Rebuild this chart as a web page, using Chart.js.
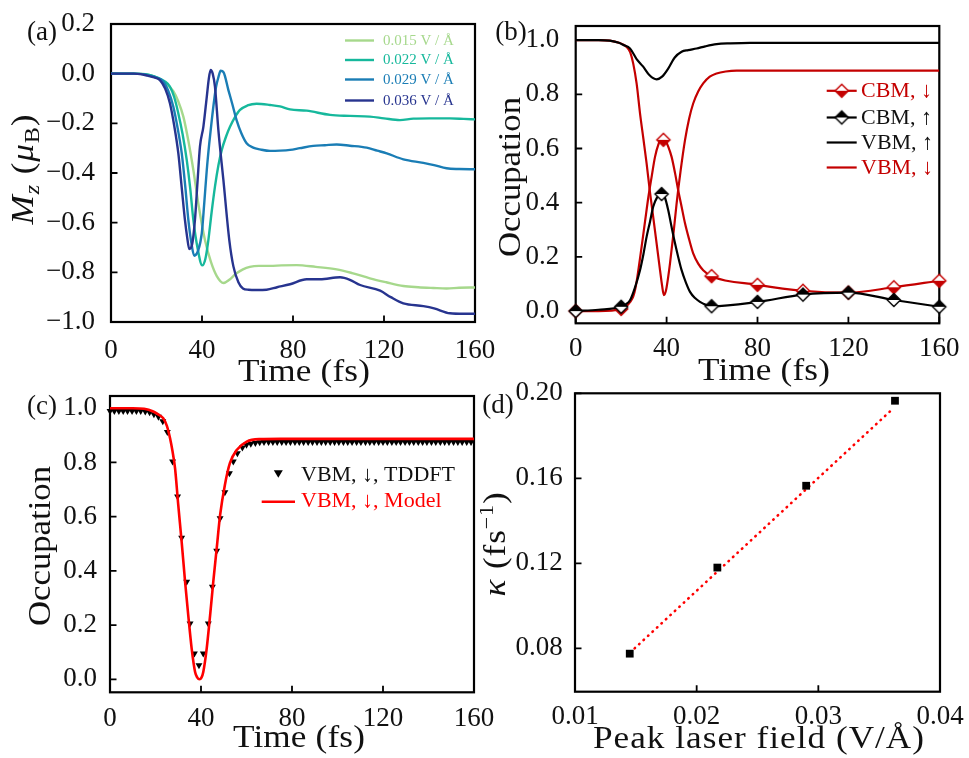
<!DOCTYPE html>
<html><head><meta charset="utf-8">
<script src="https://cdn.jsdelivr.net/npm/chart.js@4.4.0/dist/chart.umd.min.js"></script>
<style>
html,body{margin:0;padding:0;background:#fff;}
body{width:969px;height:758px;position:relative;overflow:hidden;}
canvas{position:absolute;display:block;}
</style></head><body>
<canvas id="ca" width="500" height="390" style="left:0;top:0"></canvas>
<canvas id="cb" width="489" height="390" style="left:480px;top:0"></canvas>
<canvas id="cc" width="500" height="383" style="left:0;top:375px"></canvas>
<canvas id="cd" width="489" height="383" style="left:480px;top:375px"></canvas>
<script>
// ================= DATA =================
// ---- panel (a): Mz vs time for four peak fields ----
const aFieldLabels = ['0.015 V / Å', '0.022 V / Å', '0.029 V / Å', '0.036 V / Å'];
const aTicksX = [0, 40, 80, 120, 160];
const aTickLabelsX = ['0', '40', '80', '120', '160'];
const aTicksY = [-1.0, -0.8, -0.6, -0.4, -0.2, 0.0, 0.2];
const aTickLabelsY = ['\u22121.0', '\u22120.8', '\u22120.6', '\u22120.4', '\u22120.2', '0.0', '0.2'];

const aT015 = [0, 10, 15, 18, 21, 24, 27.4, 29.5, 31.8, 34, 36.2, 38.5, 41.3, 44, 46.5, 49.4, 52, 55, 58, 61, 65, 70, 75, 81.6, 90, 99.2, 106, 113.8, 121, 128.5, 135, 141.7, 147.5, 153, 160];
const aM015 = [0, 0, -0.002, -0.008, -0.02, -0.04, -0.07, -0.11, -0.173, -0.27, -0.388, -0.53, -0.67, -0.76, -0.815, -0.843, -0.83, -0.805, -0.788, -0.778, -0.774, -0.774, -0.772, -0.771, -0.778, -0.788, -0.803, -0.824, -0.84, -0.855, -0.86, -0.863, -0.865, -0.862, -0.861];

const aT022 = [0, 10, 15, 18, 21, 23.5, 25.9, 27.8, 29.6, 31.5, 33.3, 34.8, 36.2, 38, 40.1, 41.5, 42.8, 44.2, 45.7, 47.2, 48.7, 50.5, 52.3, 54.5, 56.7, 60, 64, 69.9, 74.3, 78.7, 86, 96.3, 105, 113.8, 120, 127, 132.9, 140, 149, 155, 160];
const aM022 = [0, 0, -0.002, -0.008, -0.018, -0.03, -0.052, -0.095, -0.16, -0.245, -0.348, -0.46, -0.589, -0.7, -0.772, -0.745, -0.67, -0.56, -0.455, -0.37, -0.307, -0.255, -0.214, -0.175, -0.146, -0.128, -0.121, -0.126, -0.132, -0.144, -0.149, -0.166, -0.17, -0.173, -0.18, -0.187, -0.181, -0.18, -0.18, -0.182, -0.184];

const aT029 = [0, 10, 14, 17, 20, 23, 25.2, 27.4, 29.3, 31.1, 32.6, 34, 35.3, 36.6, 38.2, 39.9, 41, 42.1, 43.2, 44.3, 45.3, 46.2, 47.2, 48.2, 49.5, 51.6, 53.4, 55.2, 57.3, 59.6, 62.5, 65.5, 69.9, 74.3, 78.7, 83, 88.9, 94, 99.2, 105, 112.4, 117, 121.2, 128.5, 137.3, 142, 147.5, 153, 160];
const aM029 = [0, 0, -0.002, -0.008, -0.016, -0.032, -0.07, -0.133, -0.22, -0.321, -0.45, -0.589, -0.68, -0.733, -0.715, -0.643, -0.52, -0.388, -0.28, -0.187, -0.11, -0.052, -0.015, 0.012, 0.005, -0.066, -0.125, -0.187, -0.24, -0.28, -0.298, -0.305, -0.311, -0.31, -0.307, -0.3, -0.291, -0.288, -0.285, -0.29, -0.298, -0.31, -0.321, -0.345, -0.359, -0.368, -0.381, -0.384, -0.385];

const aT036 = [0, 10, 13, 16, 19, 21.5, 23.8, 25.9, 27.8, 29.6, 31.1, 32.5, 33.5, 34.4, 35.6, 36.9, 38, 39.1, 40.6, 42.1, 43, 43.8, 44.7, 45.7, 47.2, 49.4, 52, 53.8, 56, 58, 60.4, 64, 68.4, 73, 78.7, 86, 91.9, 100.7, 105, 109.5, 118.3, 123, 128.5, 137.3, 142, 149, 155, 160];
const aM036 = [0, 0, -0.002, -0.008, -0.015, -0.026, -0.06, -0.119, -0.21, -0.321, -0.46, -0.589, -0.66, -0.706, -0.69, -0.589, -0.44, -0.294, -0.214, -0.093, -0.02, 0.015, 0.0, -0.052, -0.227, -0.428, -0.67, -0.776, -0.84, -0.865, -0.87, -0.871, -0.87, -0.86, -0.848, -0.828, -0.828, -0.82, -0.83, -0.851, -0.874, -0.9, -0.925, -0.936, -0.945, -0.965, -0.967, -0.967];

// ---- panel (b): occupations ----
const bLegend = ['CBM, \u2193', 'CBM, \u2191', 'VBM, \u2191', 'VBM, \u2193'];
const bTicksX = [0, 40, 80, 120, 160];
const bTickLabelsX = ['0', '40', '80', '120', '160'];
const bTicksY = [0.0, 0.2, 0.4, 0.6, 0.8, 1.0];
const bTickLabelsY = ['0.0', '0.2', '0.4', '0.6', '0.8', '1.0'];

const bVbmUpT = [0, 10, 15, 19, 21, 23.9, 26.8, 29.7, 32.5, 35.6, 38, 40.7, 43.5, 46.6, 49.5, 53.2, 57, 62, 68, 76.7, 100, 160];
const bVbmUpV = [1.0, 1.0, 0.998, 0.99, 0.982, 0.969, 0.93, 0.902, 0.87, 0.855, 0.865, 0.895, 0.935, 0.957, 0.963, 0.969, 0.977, 0.985, 0.988, 0.99, 0.99, 0.99];

const bVbmDnT = [0, 10, 15, 19, 22.4, 24, 25.3, 26.8, 28.3, 29.8, 31.2, 32.6, 34.1, 35.6, 37.1, 38, 38.8, 39.7, 40.6, 41.5, 43, 44.4, 46.2, 48.1, 49.9, 51.7, 53.9, 56.1, 59, 62, 66, 70.8, 80, 160];
const bVbmDnV = [1.0, 1.0, 0.998, 0.99, 0.975, 0.955, 0.914, 0.84, 0.73, 0.635, 0.545, 0.445, 0.348, 0.25, 0.151, 0.095, 0.059, 0.075, 0.12, 0.176, 0.285, 0.397, 0.52, 0.631, 0.71, 0.766, 0.81, 0.84, 0.865, 0.877, 0.884, 0.887, 0.887, 0.887];

const bCbmDnT = [0, 10, 20, 22.5, 23.9, 25.3, 26.3, 27.2, 29, 30.5, 32, 33.5, 34.9, 36.4, 37.8, 38.6, 39.5, 40.8, 42.2, 43.7, 45.1, 46.6, 48.1, 49.9, 51.7, 53.9, 56.1, 59.8, 80, 100, 120, 140, 160];
const bCbmDnV = [0, 0, 0.008, 0.02, 0.033, 0.053, 0.085, 0.13, 0.237, 0.33, 0.422, 0.5, 0.569, 0.615, 0.637, 0.632, 0.628, 0.605, 0.569, 0.51, 0.446, 0.385, 0.324, 0.265, 0.213, 0.175, 0.151, 0.129, 0.097, 0.075, 0.068, 0.088, 0.112];
const bCbmDnMarks = [0, 20, 38.6, 59.8, 80, 100, 120, 140, 160];

const bCbmUpT = [0, 10, 20, 22, 23.9, 26, 28.3, 29.8, 31.2, 32.7, 34.1, 35.7, 37.8, 39.2, 40.7, 42.2, 43.7, 45.1, 46.6, 48.5, 50.3, 52.5, 54.7, 57, 59.8, 80, 100, 120, 140, 160];
const bCbmUpV = [0, 0.005, 0.016, 0.025, 0.04, 0.085, 0.151, 0.21, 0.274, 0.33, 0.385, 0.418, 0.432, 0.42, 0.373, 0.31, 0.25, 0.2, 0.151, 0.105, 0.071, 0.048, 0.034, 0.024, 0.018, 0.034, 0.061, 0.068, 0.041, 0.016];
const bCbmUpMarks = [0, 20, 37.8, 59.8, 80, 100, 120, 140, 160];

// ---- panel (c): VBM spin-down, TDDFT vs model ----
const cLegend = ['VBM, \u2193, TDDFT', 'VBM, \u2193, Model'];
const cTicksX = [0, 40, 80, 120, 160];
const cTickLabelsX = ['0', '40', '80', '120', '160'];
const cTicksY = [0.0, 0.2, 0.4, 0.6, 0.8, 1.0];
const cTickLabelsY = ['0.0', '0.2', '0.4', '0.6', '0.8', '1.0'];

const cTddftT = [0, 1.9, 3.9, 5.8, 7.7, 9.7, 11.6, 13.5, 15.5, 17.4, 19.3, 21.3, 23.2, 25.2, 27.5, 29.7, 31.5, 33.7, 35.2, 37.1, 39.1, 41, 43.2, 45, 46.9, 48.4, 50.5, 52.5, 54.2, 56, 58.2, 60, 61.9, 63.9, 65.8, 67.7, 69.7, 71.6, 73.5, 75.5, 77.4, 79.3, 81.3, 83.2, 85.1, 87.1, 89, 91, 92.9, 94.8, 96.8, 98.7, 100.6, 102.6, 104.5, 106.4, 108.4, 110.3, 112.3, 114.2, 116.1, 118.1, 120, 121.9, 123.9, 125.8, 127.7, 129.7, 131.6, 133.5, 135.5, 137.4, 139.3, 141.3, 143.2, 145.2, 147.1, 149, 151, 152.9, 154.8, 156.8, 158.7];
const cTddftV = [0.99, 0.99, 0.99, 0.99, 0.99, 0.99, 0.99, 0.99, 0.988, 0.985, 0.978, 0.968, 0.952, 0.912, 0.803, 0.674, 0.522, 0.36, 0.206, 0.095, 0.052, 0.095, 0.206, 0.341, 0.474, 0.594, 0.69, 0.76, 0.803, 0.834, 0.855, 0.865, 0.869, 0.872, 0.874, 0.875, 0.875, 0.875, 0.875, 0.875, 0.875, 0.875, 0.875, 0.875, 0.875, 0.875, 0.875, 0.875, 0.875, 0.875, 0.875, 0.875, 0.875, 0.875, 0.875, 0.875, 0.875, 0.875, 0.875, 0.875, 0.875, 0.875, 0.875, 0.875, 0.875, 0.875, 0.875, 0.875, 0.875, 0.875, 0.875, 0.875, 0.875, 0.875, 0.875, 0.875, 0.875, 0.875, 0.875, 0.875, 0.875, 0.875, 0.875];

const cModelT = [0, 10, 15, 19, 21, 23.4, 25, 26.4, 27.5, 28.6, 30, 31.5, 33, 34.4, 35.9, 37.4, 38.4, 39.3, 40.2, 41, 42.5, 44, 45.4, 46.9, 48.4, 50.5, 52.7, 55.7, 60.1, 65.9, 75, 160];
const cModelV = [1.0, 1.0, 0.998, 0.988, 0.978, 0.963, 0.935, 0.889, 0.84, 0.778, 0.643, 0.507, 0.36, 0.236, 0.113, 0.027, 0.006, 0.0, 0.006, 0.027, 0.113, 0.236, 0.36, 0.483, 0.606, 0.717, 0.797, 0.846, 0.877, 0.886, 0.887, 0.887];

// ---- panel (d): kappa vs peak laser field ----
const dTicksX = [0.01, 0.02, 0.03, 0.04];
const dTickLabelsX = ['0.01', '0.02', '0.03', '0.04'];
const dTicksY = [0.08, 0.12, 0.16, 0.20];
const dTickLabelsY = ['0.08', '0.12', '0.16', '0.20'];
const dField = [0.0145, 0.0217, 0.029, 0.0363];
const dKappa = [0.0775, 0.118, 0.1565, 0.1965];
const dFitField = [0.0149, 0.0361];
const dFitKappa = [0.080, 0.1926];

// ================= STYLE / HELPERS =================
const FONT = "'Liberation Serif', 'Times New Roman', serif";
const fnt = (size, style) => (style ? style + ' ' : '') + size + 'px ' + FONT;
const INK = '#111';
const COL_A = ['#a6d88c', '#16b89c', '#1a7db5', '#27348f'];
const RED_B = '#c40000';
const RED_C = '#ff0000';
const TICK_SIZE = 27;

const pts = (xs, ys) => xs.map((x, i) => ({x: x, y: ys[i]}));

function lineDs(xs, ys, color, width, order, extra) {
  return Object.assign({
    data: pts(xs, ys), borderColor: color, backgroundColor: color, borderWidth: width,
    pointRadius: 0, pointHoverRadius: 0, cubicInterpolationMode: 'monotone', fill: false, order: order
  }, extra || {});
}

function axis(min, max, ticks, labels, isX, size, pad) {
  return {
    type: 'linear', min: min, max: max,
    grid: {display: false}, border: {display: false},
    afterBuildTicks: s => { s.ticks = ticks.map(v => ({value: v})); },
    afterFit: s => {
      if (isX) { s.height = size; s.paddingLeft = 0; s.paddingRight = 0; }
      else { s.width = size; s.paddingTop = 0; s.paddingBottom = 0; }
    },
    ticks: {
      color: INK, padding: pad, autoSkip: false, maxRotation: 0, minRotation: 0,
      font: {family: FONT, size: TICK_SIZE}, callback: (v, i) => labels[i]
    }
  };
}

function baseOptions(pad, xScale, yScale) {
  return {
    responsive: false, animation: false, events: [], devicePixelRatio: 1,
    layout: {padding: pad},
    plugins: {legend: {display: false}, tooltip: {enabled: false}},
    scales: {x: xScale, y: yScale}
  };
}

// draw a run of text pieces centred on (x, y-baseline), optionally rotated and x-stretched
function drawParts(ctx, parts, x, y, rot, ls, sx) {
  ctx.save();
  ctx.translate(x, y);
  if (rot) ctx.rotate(rot);
  if (sx) ctx.scale(sx, 1);
  ctx.textAlign = 'left';
  ctx.textBaseline = 'alphabetic';
  if ('letterSpacing' in ctx) ctx.letterSpacing = (ls || 0) + 'px';
  let total = 0;
  parts.forEach(p => { ctx.font = p.f; p.w = ctx.measureText(p.t).width; total += p.w; });
  let cx = -total / 2;
  parts.forEach(p => { ctx.font = p.f; ctx.fillStyle = p.c || INK; ctx.fillText(p.t, cx, p.dy || 0); cx += p.w; });
  ctx.restore();
}

function fitTitle(ctx, text, size, target, x, y, rot) {
  ctx.save();
  ctx.font = fnt(size);
  if ('letterSpacing' in ctx) ctx.letterSpacing = '0px';
  const w = ctx.measureText(text).width;
  ctx.restore();
  const sx = Math.max(1, Math.min(target / w, 1.1));
  let ls = (target / sx - w) / text.length;
  ls = Math.max(0, Math.min(ls, 2.5));
  drawParts(ctx, [{t: text, f: fnt(size)}], x, y, rot, ls, sx);
}

function label(ctx, text, x, y, size) {
  ctx.save();
  ctx.font = fnt(size);
  ctx.fillStyle = INK;
  ctx.textAlign = 'center';
  ctx.textBaseline = 'middle';
  ctx.fillText(text, x, y);
  ctx.restore();
}

function legendText(ctx, text, x, y, size, color) {
  ctx.save();
  ctx.font = fnt(size);
  ctx.fillStyle = color;
  ctx.textAlign = 'left';
  ctx.textBaseline = 'middle';
  ctx.fillText(text, x, y);
  ctx.restore();
}

function legendLine(ctx, x0, x1, y, color, w) {
  ctx.save();
  ctx.strokeStyle = color; ctx.lineWidth = w;
  ctx.beginPath(); ctx.moveTo(x0, y); ctx.lineTo(x1, y); ctx.stroke();
  ctx.restore();
}

function framePlugin(id, xt, yt, draw) {
  return {
    id: 'frame' + id,
    beforeDatasetsDraw(chart) {
      const ctx = chart.ctx, a = chart.chartArea, sx = chart.scales.x, sy = chart.scales.y;
      ctx.save();
      ctx.strokeStyle = '#000';
      ctx.lineWidth = 2.2;
      ctx.strokeRect(a.left, a.top, a.right - a.left, a.bottom - a.top);
      ctx.lineWidth = 1.8;
      ctx.beginPath();
      xt.forEach(v => { const p = sx.getPixelForValue(v); ctx.moveTo(p, a.bottom); ctx.lineTo(p, a.bottom - 6.5); });
      yt.forEach(v => { const p = sy.getPixelForValue(v); ctx.moveTo(a.left, p); ctx.lineTo(a.left + 6.5, p); });
      ctx.stroke();
      ctx.restore();
    },
    afterDraw(chart) { draw(chart.ctx, chart); }
  };
}

function halfDiamond(topFill, bottomFill, stroke) {
  const c = document.createElement('canvas');
  c.width = 18; c.height = 18;
  const g = c.getContext('2d');
  const cx = 9, cy = 9, r = 6.6;
  g.beginPath(); g.moveTo(cx - r, cy); g.lineTo(cx, cy - r); g.lineTo(cx + r, cy); g.closePath();
  g.fillStyle = topFill; g.fill();
  g.beginPath(); g.moveTo(cx - r, cy); g.lineTo(cx, cy + r); g.lineTo(cx + r, cy); g.closePath();
  g.fillStyle = bottomFill; g.fill();
  g.beginPath(); g.moveTo(cx - r, cy); g.lineTo(cx, cy - r); g.lineTo(cx + r, cy); g.lineTo(cx, cy + r); g.closePath();
  g.lineWidth = 1.4; g.strokeStyle = stroke; g.stroke();
  return c;
}
const DIA_DN = halfDiamond('#ffffff', RED_B, RED_B);
const DIA_UP = halfDiamond('#000000', '#ffffff', '#000000');

function markerOpts(marks, img) {
  const isMark = c => c && c.raw && marks.indexOf(c.raw.x) >= 0;
  return {
    clip: false,
    pointStyle: c => isMark(c) ? img : 'circle',
    pointRadius: c => isMark(c) ? 7 : 0
  };
}

// ================= PANEL (a) =================
new Chart(document.getElementById('ca'), {
  type: 'line',
  data: {datasets: [
    lineDs(aT036, aM036, COL_A[3], 2.4, 0),
    lineDs(aT029, aM029, COL_A[2], 2.4, 1),
    lineDs(aT022, aM022, COL_A[1], 2.4, 2),
    lineDs(aT015, aM015, COL_A[0], 2.4, 3)
  ]},
  options: baseOptions({left: 0, right: 25, top: 24, bottom: 0},
    axis(0, 160, aTicksX, aTickLabelsX, true, 68, 4.4),
    axis(-1.0, 0.2, aTicksY, aTickLabelsY, false, 111, 8)),
  plugins: [framePlugin('a', aTicksX, aTicksY, (ctx) => {
    label(ctx, '(a)', 42, 33, 27);
    fitTitle(ctx, 'Time (fs)', 32, 132, 304, 381, 0);
    drawParts(ctx, [
      {t: 'M', f: fnt(32, 'italic')},
      {t: 'z', f: fnt(22, 'italic'), dy: 6},
      {t: ' (', f: fnt(32)},
      {t: '\u03bc', f: fnt(32, 'italic')},
      {t: 'B', f: fnt(22), dy: 6},
      {t: ')', f: fnt(32)}
    ], 33, 169, -Math.PI / 2, 0.8, 1.1);
    const rows = [40.5, 60, 79.5, 100.5];
    rows.forEach((y, i) => {
      legendLine(ctx, 345, 374, y, COL_A[i], 2.4);
      legendText(ctx, aFieldLabels[i], 383, y + 0.5, 15, COL_A[i]);
    });
  })]
});

// ================= PANEL (b) =================
new Chart(document.getElementById('cb'), {
  type: 'line',
  data: {datasets: [
    lineDs(bCbmUpT, bCbmUpV, '#000000', 2.2, 0, markerOpts(bCbmUpMarks, DIA_UP)),
    lineDs(bCbmDnT, bCbmDnV, RED_B, 2.2, 1, markerOpts(bCbmDnMarks, DIA_DN)),
    lineDs(bVbmUpT, bVbmUpV, '#000000', 2.2, 2),
    lineDs(bVbmDnT, bVbmDnV, RED_B, 2.2, 3)
  ]},
  options: baseOptions({left: 0, right: 29.7, top: 26, bottom: 0},
    axis(0, 160, bTicksX, bTickLabelsX, true, 66.7, 1.5),
    axis(-0.045, 1.052, bTicksY, bTickLabelsY, false, 95.7, 8.4)),
  plugins: [framePlugin('b', bTicksX, bTicksY, (ctx) => {
    label(ctx, '(b)', 31, 33, 27);
    fitTitle(ctx, 'Time (fs)', 32, 132, 284, 380, 0);
    fitTitle(ctx, 'Occupation', 32, 160, 40, 177, -Math.PI / 2);
    const rows = [90.8, 117.5, 142.5, 167.5];
    const cols = [RED_B, '#000000', '#000000', RED_B];
    rows.forEach((y, i) => {
      legendLine(ctx, 346.7, 376.7, y, cols[i], 2.2);
      if (i === 0) ctx.drawImage(DIA_DN, 361.7 - 9, y - 9);
      if (i === 1) ctx.drawImage(DIA_UP, 361.7 - 9, y - 9);
      legendText(ctx, bLegend[i], 381, y + 0.5, 22, i === 1 || i === 2 ? INK : RED_B);
    });
  })]
});

// ================= PANEL (c) =================
new Chart(document.getElementById('cc'), {
  type: 'line',
  data: {datasets: [
    lineDs(cModelT, cModelV, RED_C, 2.6, 0),
    {
      data: pts(cTddftT, cTddftV), showLine: false, order: 1,
      pointStyle: 'triangle', rotation: 180, pointRadius: 4, pointHoverRadius: 4,
      pointBackgroundColor: '#000', pointBorderColor: '#000', pointBorderWidth: 0, clip: false
    }
  ]},
  options: baseOptions({left: 0, right: 26, top: 21, bottom: 0},
    axis(0, 160, cTicksX, cTickLabelsX, true, 65.7, 2),
    axis(-0.048, 1.045, cTicksY, cTickLabelsY, false, 110, 5)),
  plugins: [framePlugin('c', cTicksX, cTicksY, (ctx) => {
    label(ctx, '(c)', 42, 32, 27);
    fitTitle(ctx, 'Time (fs)', 32, 132, 299, 372, 0);
    fitTitle(ctx, 'Occupation', 32, 160, 50, 171, -Math.PI / 2);
    // legend row 1: triangle marker
    ctx.save();
    ctx.fillStyle = '#000';
    ctx.beginPath();
    ctx.moveTo(278.3 - 4.5, 98.3 - 3); ctx.lineTo(278.3 + 4.5, 98.3 - 3); ctx.lineTo(278.3, 98.3 + 4.5); ctx.closePath();
    ctx.fill();
    ctx.restore();
    legendText(ctx, cLegend[0], 301, 100, 22, INK);
    legendLine(ctx, 261.7, 295, 126.7, RED_C, 2.6);
    legendText(ctx, cLegend[1], 301, 126.5, 22, RED_C);
  })]
});

// ================= PANEL (d) =================
new Chart(document.getElementById('cd'), {
  type: 'line',
  data: {datasets: [
    {
      data: pts(dField, dKappa), showLine: false, order: 0,
      pointStyle: 'rect', pointRadius: 5.5, pointHoverRadius: 5.5,
      pointBackgroundColor: '#000', pointBorderColor: '#000', pointBorderWidth: 0, clip: false
    },
    {
      data: pts(dFitField, dFitKappa), order: 1, borderColor: RED_C, borderWidth: 2.6,
      borderDash: [0.5, 5.6], borderCapStyle: 'round', pointRadius: 0, fill: false
    }
  ]},
  options: baseOptions({left: 0, right: 29, top: 18.3, bottom: 0},
    axis(0.01, 0.04, dTicksX, dTickLabelsX, true, 66.3, 1.5),
    axis(0.0596, 0.2, dTicksY, dTickLabelsY, false, 95, 4.3)),
  plugins: [framePlugin('d', dTicksX, dTicksY, (ctx) => {
    label(ctx, '(d)', 18, 31, 27);
    fitTitle(ctx, 'Peak laser field (V/\u00c5)', 32, 332, 279, 373, 0);
    drawParts(ctx, [
      {t: '\u03ba', f: fnt(32, 'italic')},
      {t: ' (fs', f: fnt(32)},
      {t: '\u22121', f: fnt(20), dy: -12},
      {t: ')', f: fnt(32)}
    ], 25, 169, -Math.PI / 2, 0.8, 1.1);
  })]
});
</script>
</body></html>
